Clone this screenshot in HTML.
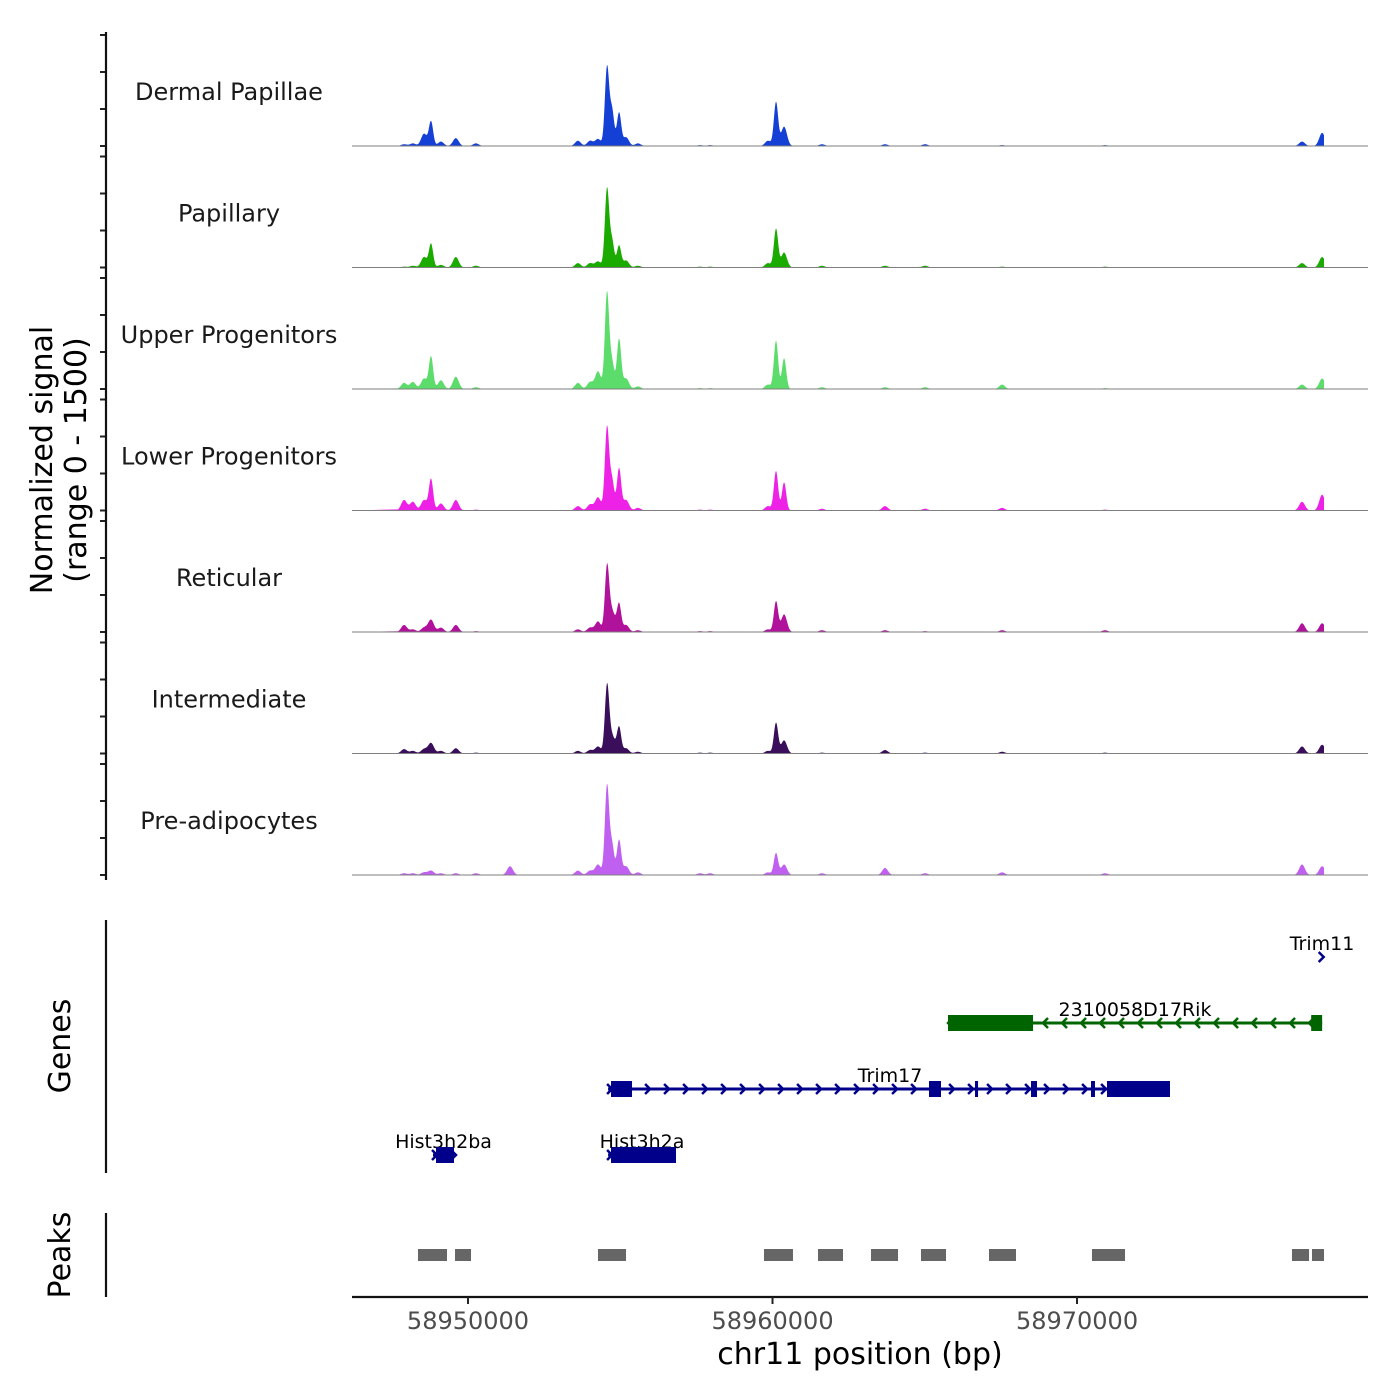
<!DOCTYPE html>
<html><head><meta charset="utf-8"><style>
html,body{margin:0;padding:0;background:#fff;}
svg{display:block;font-family:"DejaVu Sans","Liberation Sans",sans-serif;}
</style></head><body>
<svg id="chart" width="1400" height="1400" viewBox="0 0 1400 1400" xmlns="http://www.w3.org/2000/svg"></svg>
<script>
// ---- data ----
const trackNames = ["Dermal Papillae","Papillary","Upper Progenitors","Lower Progenitors","Reticular","Intermediate","Pre-adipocytes"];
const trackColors = ["#1540d6","#1aaa00","#5cdc6a","#ee22e6","#b0129b","#3a0e5a","#c060f0"];
const peakPositions = [58947900,58948190,58948555,58948785,58949110,58949600,58950260,58951380,58953610,58954010,58954270,58954565,58954730,58954960,58955190,58955580,58957620,58957950,58959850,58960115,58960380,58961625,58963695,58965010,58967540,58970920,58977390,58978050];
const sigDermal = [25,37,173,346,62,111,37,0,74,74,99,1110,494,469,123,37,12,12,74,617,272,25,25,25,12,12,62,185];
const sigPapillary = [12,25,148,333,37,148,25,0,62,62,86,1110,370,309,99,25,12,12,62,543,210,25,25,25,12,12,62,148];
const sigUpper = [86,99,148,457,123,173,25,0,86,99,247,1358,370,704,148,37,12,12,62,679,432,25,25,25,62,12,62,148];
const sigLower = [148,123,148,444,99,148,12,0,62,86,185,1173,420,593,148,37,12,12,62,556,395,25,62,25,37,12,123,222];
const sigReticular = [99,37,62,173,62,99,12,0,37,62,148,901,296,395,99,25,12,12,37,432,247,25,25,12,25,25,123,123];
const sigIntermediate = [62,37,62,148,37,74,12,0,37,49,99,938,247,370,74,25,12,12,37,432,185,12,49,12,25,12,99,123];
const sigPreadipo = [25,25,37,62,25,25,25,123,62,62,148,1260,420,494,123,37,25,25,37,309,148,25,99,25,37,25,148,123];
const xTicks = [58950000,58960000,58970000];
const xTickLabels = ["58950000","58960000","58970000"];
const yTickValues = [0,500,1000,1500];
const peakStarts = [58948357,58949573,58954269,58959720,58961494,58963234,58964876,58967109,58970492,58977060,58977717];
const peakEnds   = [58949310,58950098,58955189,58960672,58962315,58964121,58965697,58967996,58971576,58977619,58978111];
const geneNames = ["Trim11","2310058D17Rik","Trim17","Hist3h2ba","Hist3h2a"];
const geneStarts = [58978010,58965763,58954600,58948850,58954600];
const geneEnds = [58978060,58978050,58973053,58949540,58956830];
const geneStrand = ["+","-","+","+","+"];
const geneRow = [0,1,2,3,3];
const geneColors = ["#00008b","#006400","#00008b","#00008b","#00008b"];
const exonGene = [1,1,2,2,2,2,2,2,3,4];
const exonStarts = [58965763,58977690,58954696,58965139,58966650,58968489,58970459,58970984,58948949,58954696];
const exonEnds   = [58968555,58978050,58955386,58965533,58966750,58968686,58970590,58973053,58949540,58956830];

const signals = [sigDermal,sigPapillary,sigUpper,sigLower,sigReticular,sigIntermediate,sigPreadipo];
const svg = document.getElementById('chart');
const NS = 'http://www.w3.org/2000/svg';
function mk(tag, attrs, parent){const e=document.createElementNS(NS,tag);for(const k in attrs)e.setAttribute(k,attrs[k]);(parent||svg).appendChild(e);return e;}
const X0=352, X1=1368, BP0=58946190, BP1=58979556;
function xs(bp){return X0+(bp-BP0)/(BP1-BP0)*(X1-X0);}
const trackBase = i => 146 + i*121.5;
const RANGE_PX = 111;

// signal tracks
signals.forEach((sig,i)=>{
  const base=trackBase(i);
  let d='M'+X0+','+base;
  for(let px=398;px<=1324;px+=0.5){
    const bp=BP0+(px-X0)/(X1-X0)*(BP1-BP0);
    let v=0;
    peakPositions.forEach((p,k)=>{const w=sig[k]>300?70:95;const z=(bp-p)/w;v+=sig[k]*Math.exp(-0.5*z*z);});
    const h=Math.min(v,1500)/1500*RANGE_PX*0.96;
    d+=' L'+px+','+(base-h).toFixed(2);
  }
  d+=' L1324,'+base+' Z';
  const p=mk('path',{d:d,fill:trackColors[i],stroke:'none'});
  
  
  const ln=mk('line',{x1:X0,x2:X1,y1:base,y2:base,stroke:'#7f7f7f','stroke-width':1});
  
  
  const t=mk('text',{x:229,y:base-46,'font-size':24,'text-anchor':'middle',fill:'#1a1a1a'});
  t.textContent=trackNames[i];
  
  
  yTickValues.forEach(v=>{
    const y=base-v/1500*RANGE_PX;
    const tk=mk('line',{x1:100,x2:106,y1:y,y2:y,stroke:'#222','stroke-width':2});
    
    
  });
});
const ya=mk('line',{x1:106,x2:106,y1:32,y2:880,stroke:'#111','stroke-width':2.2});


const yt=mk('text',{transform:'translate(52,460) rotate(-90)','font-size':30,'text-anchor':'middle',fill:'#000'});
yt.textContent='Normalized signal';


const yt2=mk('text',{transform:'translate(86,460) rotate(-90)','font-size':30,'text-anchor':'middle',fill:'#000'});
yt2.textContent='(range 0 - 1500)';



// genes
const rowY=[957,1023,1089,1155];
const ga=mk('line',{x1:106,x2:106,y1:920,y2:1173,stroke:'#111','stroke-width':2.2});


const gt=mk('text',{transform:'translate(70,1046) rotate(-90)','font-size':30,'text-anchor':'middle',fill:'#000'});
gt.textContent='Genes';


geneNames.forEach((g,i)=>{
  const y=rowY[geneRow[i]], c=geneColors[i];
  const x1=xs(geneStarts[i]), x2=xs(geneEnds[i]);
  const grp=mk('g',{});
  
  
  if(x2-x1>10) mk('line',{x1:x1,x2:x2,y1:y,y2:y,stroke:c,'stroke-width':3},grp);
  const step=19;
  const dir=geneStrand[i]==='+'?1:-1;
  const arrowAt=x=>mk('polyline',{points:(x-3*dir)+','+(y-5)+' '+(x+2*dir)+','+y+' '+(x-3*dir)+','+(y+5),fill:'none',stroke:c,'stroke-width':2.5},grp);
  if(x2-x1<step){arrowAt((x1+x2)/2);}
  else for(let x=x1+2;x<=x2;x+=step){arrowAt(x);}
  const t=mk('text',{x:(g==='Trim11'?1322:g==='2310058D17Rik'?1135:g==='Trim17'?890:(x1+x2)/2),y:y-7,'font-size':19,'text-anchor':'middle',fill:'#000'});
  t.textContent=g;
  
  
});
exonGene.forEach((gi,k)=>{
  const y=rowY[geneRow[gi]];
  const r=mk('rect',{x:xs(exonStarts[k]),y:y-8,width:Math.max(3,xs(exonEnds[k])-xs(exonStarts[k])),height:16,fill:geneColors[gi]});
  
  
});

// peaks
const pa=mk('line',{x1:106,x2:106,y1:1213,y2:1297,stroke:'#111','stroke-width':2.2});


const pt=mk('text',{transform:'translate(70,1255) rotate(-90)','font-size':30,'text-anchor':'middle',fill:'#000'});
pt.textContent='Peaks';


peakStarts.forEach((s,k)=>{
  const r=mk('rect',{x:xs(s),y:1249,width:xs(peakEnds[k])-xs(s),height:12,fill:'#666'});
  
  
});

// x axis
const xa=mk('line',{x1:X0,x2:X1,y1:1297,y2:1297,stroke:'#111','stroke-width':2.2});


xTicks.forEach((v,k)=>{
  const x=xs(v);
  const tk=mk('line',{x1:x,x2:x,y1:1297,y2:1304,stroke:'#222','stroke-width':2});
  
  
  const t=mk('text',{x:x,y:1329,'font-size':24,'text-anchor':'middle',fill:'#4d4d4d'});
  t.textContent=xTickLabels[k];
  
  
});
const xt=mk('text',{x:860,y:1364,'font-size':30,'text-anchor':'middle',fill:'#000'});
xt.textContent='chr11 position (bp)';


</script>
</body></html>
